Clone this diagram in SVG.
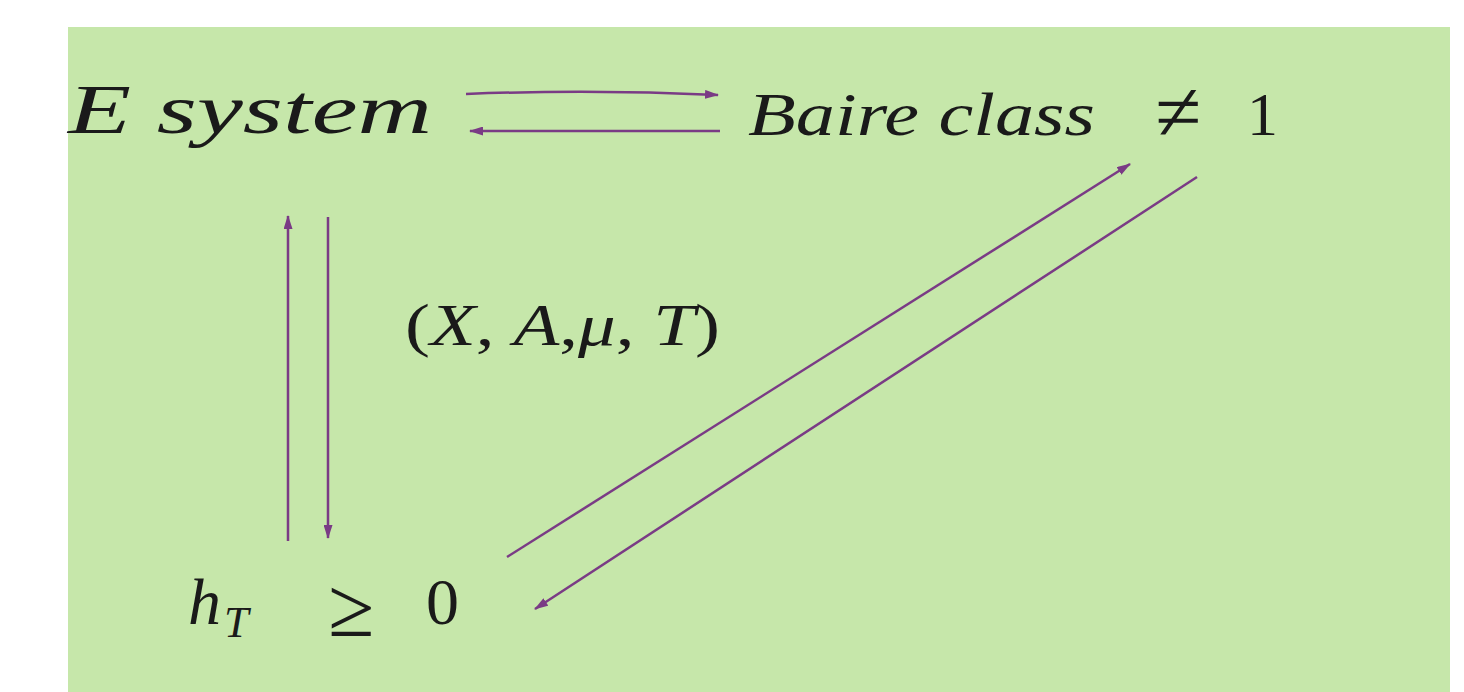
<svg xmlns="http://www.w3.org/2000/svg" width="1464" height="692" viewBox="0 0 1464 692">
<defs>
<marker id="ah" viewBox="0 0 14 9" refX="13" refY="4.5" markerWidth="14" markerHeight="9" markerUnits="userSpaceOnUse" orient="auto">
<path d="M0,0 L14,4.5 L0,9 Z" fill="#7a3b85"/>
</marker>
<style>
.t{font-family:"Liberation Serif","DejaVu Serif",serif;font-style:italic;fill:#1a1a1a}
.r{font-family:"Liberation Serif","DejaVu Serif",serif;fill:#1a1a1a}
.c{stroke:#7a3b85;stroke-width:2.5;fill:none;marker-end:url(#ah)}
</style>
</defs>
<rect width="1464" height="692" fill="#ffffff"/>
<rect x="68" y="27" width="1382" height="665" fill="#c6e7aa"/>
<g id="node-esystem">
<text class="t" x="68" y="133" font-size="70" textLength="364" lengthAdjust="spacingAndGlyphs">E system</text>
</g>
<g id="node-baire">
<text class="t" x="748" y="135" font-size="62" textLength="347" lengthAdjust="spacingAndGlyphs">Baire class</text>
<text class="r" x="1155" y="140" font-size="84">≠</text>
<text class="r" x="1247" y="135" font-size="62">1</text>
</g>
<g id="label-xamt">
<text class="r" x="405" y="345" font-size="60" textLength="315" lengthAdjust="spacingAndGlyphs">(<tspan font-style="italic">X</tspan>, <tspan font-style="italic">A</tspan>,<tspan font-style="italic">μ</tspan>, <tspan font-style="italic">T</tspan>)</text>
</g>
<g id="node-ht">
<text class="t" x="188" y="624" font-size="66">h</text>
<text class="t" x="224" y="637" font-size="44">T</text>
<text class="r" x="328" y="636" font-size="84">≥</text>
<text class="r" x="426" y="624" font-size="66">0</text>
</g>
<g id="connectors">
<path class="c" d="M466,94 Q592,89 718,95"/>
<path class="c" d="M720,131 L470,131"/>
<path class="c" d="M288,541 L288,216"/>
<path class="c" d="M328,217 L328,538"/>
<path class="c" d="M507,557 L1130,164"/>
<path class="c" d="M1197,177 L535,609"/>
</g>
</svg>
